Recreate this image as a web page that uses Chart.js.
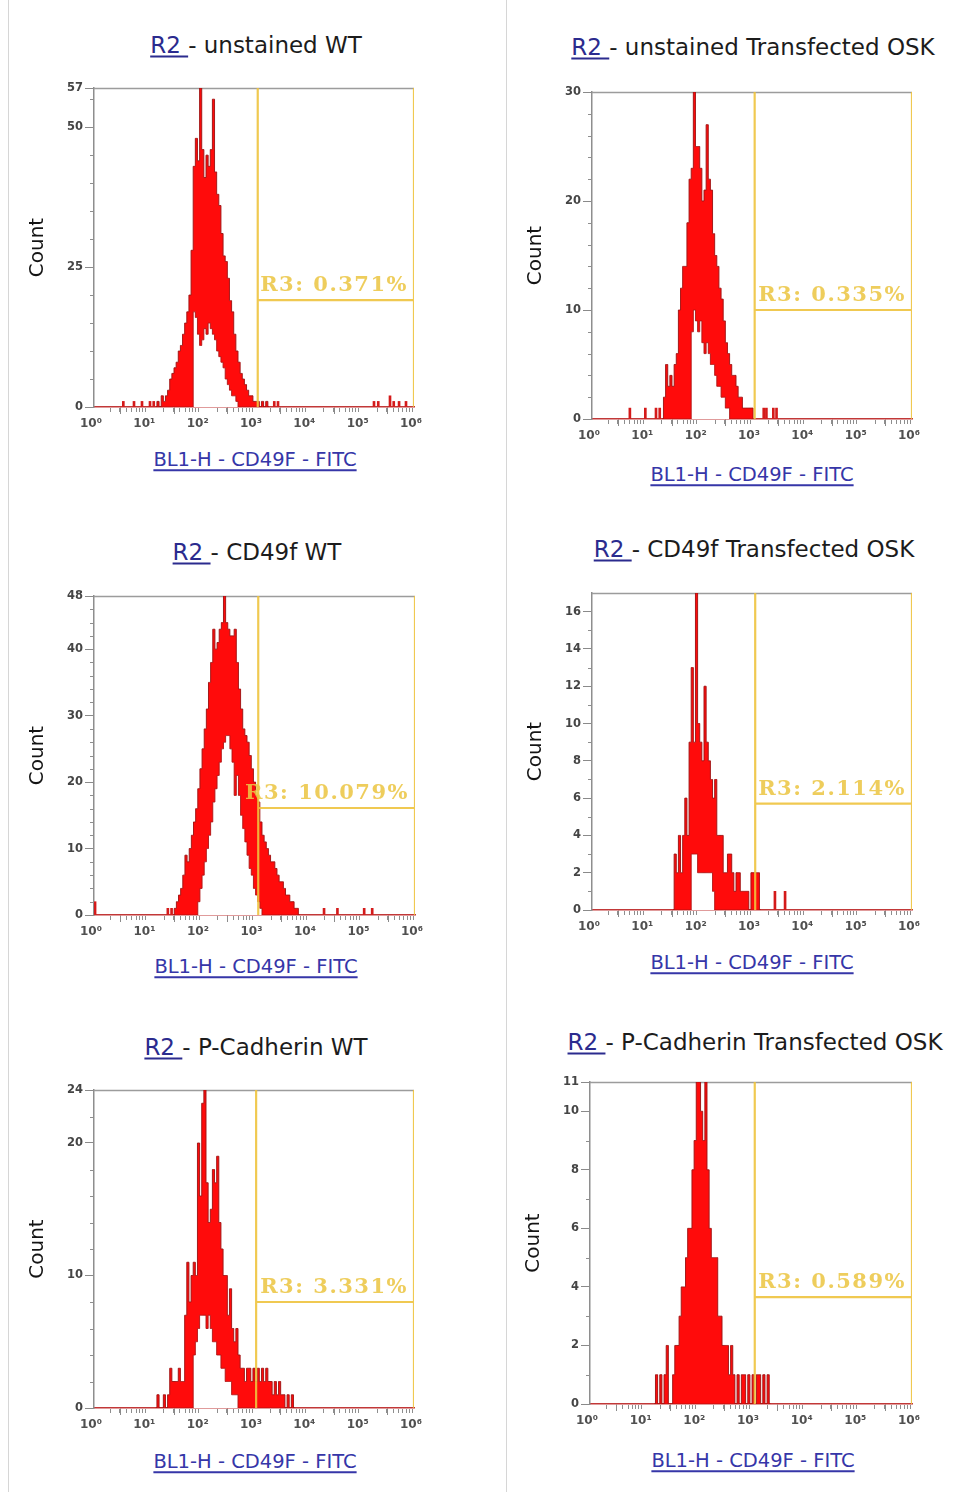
<!DOCTYPE html>
<html>
<head>
<meta charset="utf-8">
<script src="https://cdn.jsdelivr.net/npm/chart.js@4.4.1/dist/chart.umd.min.js"></script>
<style>
html,body{margin:0;padding:0;background:#ffffff;}
body{width:956px;height:1492px;position:relative;overflow:hidden;font-family:"DejaVu Sans",sans-serif;}
canvas{position:absolute;}
.ttl{position:absolute;transform:translate(-50%,-50%);white-space:nowrap;font-size:23px;line-height:1;color:#1c1c1c;}
.ttl u{color:#2b2b8e;text-decoration-thickness:1.5px;text-underline-offset:3px;}
.xt{position:absolute;transform:translate(-50%,-50%);white-space:nowrap;font-size:19.5px;line-height:1;color:#3636a8;text-decoration:underline;text-decoration-thickness:1.5px;text-underline-offset:3px;}
.sep{position:absolute;width:1px;background:#d6d6d6;}
</style>
</head>
<body>
<div class="sep" style="left:8px;top:0;height:1492px"></div>
<div class="sep" style="left:506px;top:0;height:1492px"></div>
<script>
// ---------- data ----------
const BIN = 0.04; // histogram bin width, in decades (log10 units)
const sampleNames = ["unstained WT", "unstained Transfected OSK", "CD49f WT", "CD49f Transfected OSK", "P-Cadherin WT", "P-Cadherin Transfected OSK"];
const gateLabels = ["0.371%", "0.335%", "10.079%", "2.114%", "3.331%", "0.589%"];
const gateFrom = [3.07, 3.05, 3.07, 3.06, 3.04, 3.07];   // R3 gate start (log10 decade)
const gateLevel = [19.1, 10.0, 16.1, 5.7, 8.0, 3.65];     // height of the R3 gate bar (count)
const countMax = [57, 30, 48, 17, 24, 11];
const countTicks = [[0,25,50,57],[0,10,20,30],[0,10,20,30,40,48],[0,2,4,6,8,10,12,14,16],[0,10,20,24],[0,2,4,6,8,10,11]];
const decadeLabels = ["10⁰","10¹","10²","10³","10⁴","10⁵","10⁶"];
const xAxisTitle = "BL1-H - CD49F - FITC";
const yAxisTitle = "Count";

// histogram counts: High = bin maximum, Low = bin minimum (inner envelope)
const p1Start = 1.16;
const p1High = [0,1,0,2,1,2,3,5,6,7,8,10,11,13,15,17,20,28,43,48,44,57,46,41,45,43,46,55,42,38,36,31,27,26,23,19,17,13,10,8,6,5,4,3,2,2,1,1,1,0,1,0,1,0];
const p1LowStart = 1.88;
const p1Low = [17,16,13,11,12,14,13,15,14,13,12,10,9,8,7,5,4,3,2,2,1];
const p1EvX = [0.55,0.75,0.90,1.05,1.12,3.38,3.45,5.25,5.33,5.55,5.62,5.72,5.85];
const p1EvN = [1,1,1,1,1,1,1,1,1,2,1,1,1];

const p2Start = 1.32;
const p2High = [0,2,5,3,4,3,5,6,10,12,14,14,18,22,23,30,25,25,23,20,21,27,22,21,17,15,14,12,11,9,7,6,5,4,4,3,2,2,1,1,1,1,1,0];
const p2LowStart = 1.88;
const p2Low = [8,10,9,8,9,7,6,7,6,5,5,4,3,3,2,2,1,1];
const p2EvX = [0.71,1.00,1.20,1.27,3.22,3.27,3.40,3.46];
const p2EvN = [1,1,1,1,1,1,1,1];

const p3Start = 1.48;
const p3High = [0,1,2,3,4,6,9,8,10,12,14,16,19,22,25,28,31,35,38,43,40,41,43,44,48,44,43,42,42,43,38,34,31,28,27,26,24,22,20,18,17,14,12,11,10,9,8,8,7,6,5,5,4,3,3,2,2,1,1,0];
const p3LowStart = 1.96;
const p3Low = [2,4,6,8,10,12,14,17,19,21,23,25,26,27,27,25,23,18,21,18,15,13,11,9,7,6,4,3,2,1];
const p3EvX = [0.02,1.38,1.45,4.30,4.55,5.05,5.20];
const p3EvN = [2,1,1,1,1,1,1];

const p4Start = 1.52;
const p4High = [0,3,2,4,2,4,6,4,9,13,9,17,10,9,8,12,9,8,7,6,7,4,4,4,2,2,3,3,2,1,2,2,1,1,1,1,0,2,2,2,2,0];
const p4LowStart = 1.88;
const p4Low = [3,3,3,2,2,2,2,2,2,2,1];
const p4EvX = [3.43,3.62];
const p4EvN = [1,1];

const p5Start = 1.16;
const p5High = [0,1,0,0,1,0,1,3,2,2,2,3,2,2,7,11,8,10,11,10,20,16,23,24,17,14,15,18,17,19,14,12,10,10,7,9,6,5,6,4,3,3,2,3,3,2,3,2,3,2,3,2,3,2,2,1,2,1,2,1,1,0,1,0,1,0];
const p5LowStart = 1.88;
const p5Low = [4,5,6,7,7,7,6,7,6,5,5,4,4,3,3,2,2,2,1,1,1];
const p5EvX = [];
const p5EvN = [];

const p6Start = 1.20;
const p6High = [0,1,0,1,0,1,2,0,0,1,2,2,3,4,4,5,6,6,8,9,11,11,10,9,11,8,6,5,5,5,3,3,2,2,2,1,2,1,0,1,0,1,1,0,1,0,1,0,1,1,0,1,0,1,0];
const p6LowStart = 0;
const p6Low = [];
const p6EvX = [];
const p6EvN = [];

const hists = [
  {start:p1Start, high:p1High, lowStart:p1LowStart, low:p1Low, evX:p1EvX, evN:p1EvN},
  {start:p2Start, high:p2High, lowStart:p2LowStart, low:p2Low, evX:p2EvX, evN:p2EvN},
  {start:p3Start, high:p3High, lowStart:p3LowStart, low:p3Low, evX:p3EvX, evN:p3EvN},
  {start:p4Start, high:p4High, lowStart:p4LowStart, low:p4Low, evX:p4EvX, evN:p4EvN},
  {start:p5Start, high:p5High, lowStart:p5LowStart, low:p5Low, evX:p5EvX, evN:p5EvN},
  {start:p6Start, high:p6High, lowStart:p6LowStart, low:p6Low, evX:p6EvX, evN:p6EvN}
];

// ---------- layout ----------
const Y_AXIS_W = 72, PAD_TOP = 14, PAD_RIGHT = 16, X_AXIS_H = 32;
const geom = [
  {left:22,  top:74,   w:408, h:365},
  {left:520, top:78,   w:408, h:373},
  {left:22,  top:582,  w:409, h:365},
  {left:520, top:579,  w:408, h:363},
  {left:22,  top:1076, w:408, h:364},
  {left:518, top:1068, w:410, h:368}
];
const titlePos = [[256,45],[753,47],[257,552],[754,549],[256,1047],[755,1042]];
const xTitlePos = [[255,460],[752,475],[256,967],[752,963],[255,1462],[753,1461]];
const yMinorStep = [5,2,2,1,2,1];

const RED = '#ff0b0b', DARKRED = 'rgba(160,20,20,0.95)', GATE = 'rgba(238,195,62,0.9)';

const frameAndMinor = {
  id: 'frameAndMinor',
  beforeDatasetsDraw(chart) {
    const {ctx, chartArea: a} = chart;
    ctx.save();
    ctx.strokeStyle = '#9c9c9c'; ctx.lineWidth = 1.5;
    ctx.beginPath(); ctx.moveTo(a.left, a.top + 0.5); ctx.lineTo(a.right, a.top + 0.5); ctx.stroke();
    ctx.restore();
  },
  afterDraw(chart, args, opts) {
    const {ctx, chartArea: a, scales: {x, y}} = chart;
    ctx.save();
    ctx.strokeStyle = '#8e8e8e'; ctx.lineWidth = 1;
    ctx.beginPath();
    for (let d = 0; d < 6; d++) {
      for (let k = 2; k < 10; k++) {
        const px = Math.round(x.getPixelForValue(d + Math.log10(k))) + 0.5;
        ctx.moveTo(px, a.bottom + 1); ctx.lineTo(px, a.bottom + 5);
      }
    }
    const step = opts.step, majors = opts.majors;
    for (let v = step; v < y.max - 1e-6; v += step) {
      if (majors.indexOf(v) >= 0) continue;
      const py = Math.round(y.getPixelForValue(v)) + 0.5;
      ctx.moveTo(a.left - 4, py); ctx.lineTo(a.left, py);
    }
    ctx.stroke();
    ctx.restore();
  }
};

const gateText = {
  id: 'gateText',
  afterDatasetsDraw(chart, args, opts) {
    const {ctx, scales: {x, y}} = chart;
    ctx.save();
    ctx.font = 'bold 21px "DejaVu Serif", serif';
    try { ctx.letterSpacing = '1.5px'; } catch (e) {}
    ctx.fillStyle = 'rgba(236,198,70,0.88)';
    ctx.textAlign = 'right';
    ctx.textBaseline = 'alphabetic';
    ctx.fillText('R3: ' + opts.label, x.getPixelForValue(6) - 6, y.getPixelForValue(opts.level) - 9);
    ctx.restore();
  }
};

function binSeries(start, vals) {
  return vals.map((v, i) => ({x: Math.round((start + i * BIN) * 1000) / 1000, y: v}));
}
function lowOnGrid(h) {
  return h.high.map((_, i) => {
    const x = Math.round((h.start + i * BIN) * 1000) / 1000;
    const j = Math.round((x - h.lowStart) / BIN);
    return {x: x, y: (h.low.length && j >= 0 && j < h.low.length) ? h.low[j] : 0};
  });
}

for (let i = 0; i < 6; i++) {
  const g = geom[i], h = hists[i];
  const t = document.createElement('div');
  t.className = 'ttl';
  t.style.left = titlePos[i][0] + 'px'; t.style.top = titlePos[i][1] + 'px';
  t.innerHTML = '<u>R2&nbsp;</u>- ' + sampleNames[i];
  document.body.appendChild(t);
  const xt = document.createElement('div');
  xt.className = 'xt';
  xt.style.left = xTitlePos[i][0] + 'px'; xt.style.top = xTitlePos[i][1] + 'px';
  xt.textContent = xAxisTitle;
  document.body.appendChild(xt);

  const c = document.createElement('canvas');
  c.width = g.w; c.height = g.h;
  c.style.left = g.left + 'px'; c.style.top = g.top + 'px';
  c.style.width = g.w + 'px'; c.style.height = g.h + 'px';
  document.body.appendChild(c);

  const gf = gateFrom[i], gl = gateLevel[i], ym = countMax[i];
  const gateData = [
    {x: gf, y: 0}, {x: gf, y: ym}, {x: gf, y: null},
    {x: 6, y: 0}, {x: 6, y: ym}, {x: 6, y: null},
    {x: gf, y: gl}, {x: 6, y: gl}
  ];
  const events = h.evX.map((x, k) => ({x: x, y: h.evN[k]}));

  new Chart(c, {
    type: 'line',
    data: {
      datasets: [
        {label: 'R3 gate', data: gateData, order: 0, borderColor: GATE, borderWidth: 2.2,
         pointRadius: 0, fill: false, spanGaps: false, tension: 0},
        {type: 'bar', label: 'events', data: events, order: 1, backgroundColor: '#d41a1a',
         barThickness: 2, borderWidth: 0},
        // inner envelope: everything below the per-bin minimum is empty (white)
        {label: 'count-min', data: lowOnGrid(h), order: 2, stepped: 'middle',
         borderColor: 'rgba(175,20,20,0.9)', borderWidth: 1, backgroundColor: '#ffffff',
         fill: 'origin', pointRadius: 0},
        {label: 'count', data: binSeries(h.start, h.high), order: 3, stepped: 'middle',
         borderColor: DARKRED, borderWidth: 1, backgroundColor: RED, fill: 'origin', pointRadius: 0}
      ]
    },
    options: {
      responsive: false,
      animation: false,
      events: [],
      layout: {padding: {top: PAD_TOP, right: PAD_RIGHT, left: 0, bottom: 0}},
      plugins: {
        legend: {display: false},
        tooltip: {enabled: false},
        title: {display: false},
        frameAndMinor: {step: yMinorStep[i], majors: countTicks[i]},
        gateText: {label: gateLabels[i], level: gl}
      },
      scales: {
        x: {
          type: 'linear', min: 0, max: 6, offset: false, z: 1,
          afterBuildTicks: s => { s.ticks = decadeLabels.map((_, k) => ({value: k})); },
          afterFit: s => { s.height = X_AXIS_H; },
          grid: {drawOnChartArea: false, drawTicks: true, tickLength: 7, tickColor: '#8a8a8a', tickWidth: 1},
          border: {display: true, color: '#c23838', width: 1.5},
          ticks: {autoSkip: false, maxRotation: 0, padding: 3, labelOffset: -3, color: '#505050',
                  font: {family: 'DejaVu Sans', size: 12, weight: 'bold'},
                  callback: v => decadeLabels[Math.round(v)]}
        },
        y: {
          type: 'linear', min: 0, max: ym,
          afterBuildTicks: s => { s.ticks = countTicks[i].map(v => ({value: v})); },
          afterFit: s => { s.width = Y_AXIS_W; },
          grid: {drawOnChartArea: false, drawTicks: true, tickLength: 9, tickColor: '#8a8a8a', tickWidth: 1},
          border: {display: true, color: '#8e8e8e', width: 1.5},
          ticks: {autoSkip: false, padding: 2, color: '#454545',
                  font: {family: 'DejaVu Sans', size: 11.5, weight: 'bold'},
                  callback: v => String(v)},
          title: {display: true, text: yAxisTitle, color: '#141414',
                  font: {family: 'DejaVu Sans', size: 20}, padding: {top: 4, bottom: 4}}
        }
      }
    },
    plugins: [frameAndMinor, gateText]
  });
}
</script>
</body>
</html>
